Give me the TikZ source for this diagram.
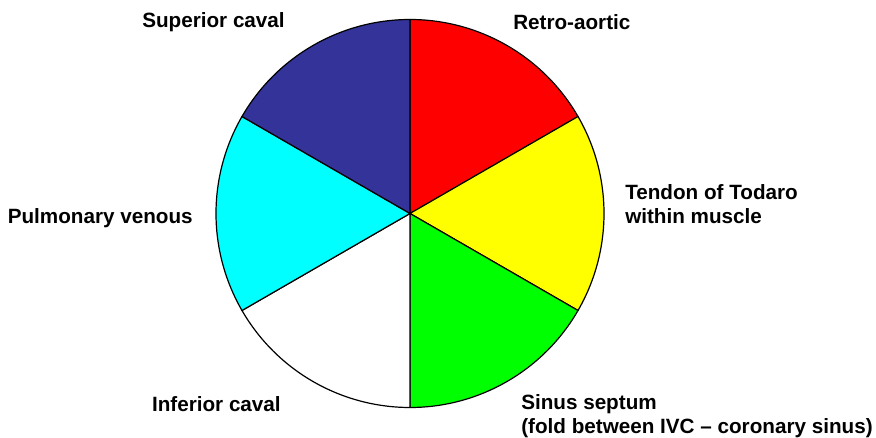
\documentclass[tikz,border=0pt]{standalone}
\usepackage{fontspec}
\setmainfont{Liberation Sans}
\definecolor{cblue}{RGB}{51,51,153}
\definecolor{cred}{RGB}{255,0,0}
\definecolor{cyellow}{RGB}{255,255,0}
\definecolor{cgreen}{RGB}{0,255,0}
\definecolor{ccyan}{RGB}{0,255,255}
\begin{document}
\begin{tikzpicture}[x=0.75pt,y=-0.75pt,
  slice/.style={draw=black,line width=0.9pt,line join=round},
  lbl/.style={font=\fontsize{15.5}{18}\selectfont\bfseries,inner sep=0pt}]
\useasboundingbox (0,0) rectangle (876,438);
\coordinate (c) at (410,213.5);
\def\R{194}
\fill[white] (0,0) rectangle (876,438);
\filldraw[slice,fill=cred] (c) -- ++(90:\R*0.75pt) arc[start angle=90,end angle=30,radius=\R*0.75pt] -- cycle;
\filldraw[slice,fill=cyellow] (c) -- ++(30:\R*0.75pt) arc[start angle=30,end angle=-30,radius=\R*0.75pt] -- cycle;
\filldraw[slice,fill=cgreen] (c) -- ++(-30:\R*0.75pt) arc[start angle=-30,end angle=-90,radius=\R*0.75pt] -- cycle;
\filldraw[slice,fill=white] (c) -- ++(-90:\R*0.75pt) arc[start angle=-90,end angle=-150,radius=\R*0.75pt] -- cycle;
\filldraw[slice,fill=ccyan] (c) -- ++(210:\R*0.75pt) arc[start angle=210,end angle=150,radius=\R*0.75pt] -- cycle;
\filldraw[slice,fill=cblue] (c) -- ++(150:\R*0.75pt) arc[start angle=150,end angle=90,radius=\R*0.75pt] -- cycle;
\node[lbl,anchor=east] (sc) at (285,22) {Superior caval};
\node[lbl,anchor=west] (ra) at (513,22) {Retro-aortic};
\node[lbl,anchor=west,align=left] (tt) at (625,204) {Tendon of Todaro\\within muscle};
\node[lbl,anchor=east] (pv) at (193,218) {Pulmonary venous};
\node[lbl,anchor=east] (ic) at (281,404) {Inferior caval};
\node[lbl,anchor=west,align=left] (ss) at (521,416) {Sinus septum\\(fold between IVC – coronary sinus)};
\end{tikzpicture}
\end{document}
